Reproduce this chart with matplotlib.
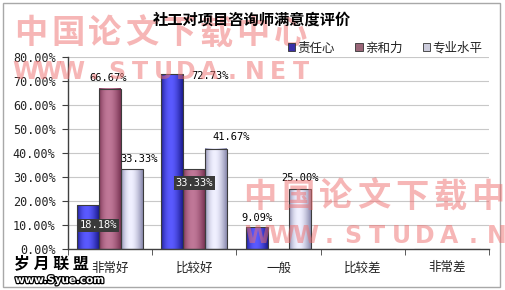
import numpy as np
import matplotlib.pyplot as plt
from matplotlib.patches import Patch, Rectangle
from matplotlib.colors import to_rgb
import matplotlib.patheffects as pe

plt.rcParams['font.family'] = ['Noto Sans CJK SC', 'DejaVu Sans']

# 数据
categories = ['非常好', '比较好', '一般', '比较差', '非常差']
series_names = ['责任心', '亲和力', '专业水平']
zerenxin = [18.18, 72.73, 9.09, 0, 0]
qinheli = [66.67, 33.33, 0, 0, 0]
zhuanye = [33.33, 41.67, 25.00, 0, 0]
yticks = [0, 10, 20, 30, 40, 50, 60, 70, 80]

values = [zerenxin, qinheli, zhuanye]
# (dark, light) gradient colours per series
grad_colors = [('#1c1c90', '#5a5aff'), ('#7a3454', '#c07898'), ('#8a8aae', '#f0f0ff')]
legend_colors = ['#3a2fa8', '#9a6678', '#ccccdc']

# label offsets in pixels: (dx, dy from bar top, dark box)
label_pos = {
    (0, 0): (10, -20, True), (1, 0): (-2, 11, False), (2, 0): (7, 10, False),
    (0, 1): (38, -2, False), (1, 1): (0, -14, True), (2, 1): (15, 12, False),
    (0, 2): (0, 9, False), (2, 2): (0, 11, False),
}

W, H = 506, 290
fig = plt.figure(figsize=(W / 100, H / 100), dpi=100)
fig.patch.set_facecolor('white')
fig.patches.append(Rectangle((3 / W, 3 / H), 497 / W, 284 / H, transform=fig.transFigure,
                             fill=False, edgecolor='#a8a8a8', lw=1))

ax = fig.add_axes([68 / W, 41 / H, 421 / W, 192 / H])

x = np.arange(len(categories))
bw = 0.26
t = np.linspace(0, 1, 64)
shade = np.sin(np.pi * t ** 0.85)

for i, vals in enumerate(values):
    dark, light = np.array(to_rgb(grad_colors[i][0])), np.array(to_rgb(grad_colors[i][1]))
    grad = dark[None, :] + (light - dark)[None, :] * shade[:, None]
    bars = ax.bar(x + (i - 1) * bw, vals, bw, facecolor='none', edgecolor='#3c3c3c', lw=0.8, zorder=3)
    for j, rect in enumerate(bars):
        h = rect.get_height()
        if h <= 0:
            continue
        x0 = rect.get_x()
        ax.imshow(grad[None, :, :], extent=[x0, x0 + rect.get_width(), 0, h],
                  aspect='auto', interpolation='bilinear', zorder=2)
        dx, dy, boxed = label_pos.get((i, j), (0, 10, False))
        kw = dict(color='black')
        if boxed:
            kw = dict(color='white', bbox=dict(boxstyle='square,pad=0.15', fc='#3a3a3a', ec='none'))
        ax.annotate(f'{vals[j]:.2f}%', (rect.get_x() + rect.get_width() / 2, h),
                    xytext=(dx, dy), textcoords='offset pixels', ha='center', va='center',
                    fontsize=7.5, family='DejaVu Sans Mono', zorder=5, **kw)

ax.set_xlim(-0.5, len(categories) - 0.5)
ax.set_ylim(0, 80)
ax.set_yticks(yticks)
ax.set_yticklabels([f'{v:.2f}%' for v in yticks], family='DejaVu Sans Mono', fontsize=8.5, color='#222222')
ax.set_xticks(x)
ax.set_xticklabels(categories, fontsize=9, color='#222222')
ax.set_xticks(np.arange(len(categories) + 1) - 0.5, minor=True)
ax.tick_params(axis='x', which='major', length=0, pad=9)
ax.tick_params(axis='x', which='minor', length=4, direction='out', color='#404040')
ax.tick_params(axis='y', length=4, direction='out', color='#404040', pad=5)
ax.grid(axis='y', color='#c8c8c8', lw=0.8)
ax.set_axisbelow(True)
for s in ['top', 'right']:
    ax.spines[s].set_visible(False)
for s in ['left', 'bottom']:
    ax.spines[s].set_color('#404040')
    ax.spines[s].set_linewidth(1)

handles = [Patch(facecolor=c, edgecolor='#333333', lw=0.6) for c in legend_colors]
fig.legend(handles, series_names, loc='center', bbox_to_anchor=(385 / W, 1 - 48 / H), ncol=3,
           frameon=False, fontsize=9, handlelength=0.6, handleheight=0.6, handletextpad=0.2,
           columnspacing=1.6, labelcolor='#222222')


# watermarks, one character at a time for the wide spacing
def watermark(text, x0, y0, step, size, family):
    for k, ch in enumerate(text):
        fig.text((x0 + k * step) / W, 1 - y0 / H, ch, fontsize=size, family=family,
                 color='#ee6e6e', alpha=0.5, fontweight='black', ha='center', va='center', zorder=4)


watermark('中国论文下载中心', 31, 34, 37, 24, 'Noto Sans CJK SC')
watermark('WWW.STUDA.NET', 25, 72, 23, 17, 'DejaVu Sans')
watermark('中国论文下载中心', 260, 197, 38, 24, 'Noto Sans CJK SC')
watermark('WWW.STUDA.NET', 257, 236, 24, 17, 'DejaVu Sans')

fig.text(14 / W, 1 - 263 / H, '岁 月 联 盟', fontsize=11.5, fontweight='black', va='center',
         ha='left', color='black', zorder=6)
fig.text(15 / W, 1 - 280 / H, 'www.Syue.com', fontsize=7.5, fontweight='bold', va='center', ha='left',
         family='DejaVu Sans', color='white', zorder=6,
         path_effects=[pe.withStroke(linewidth=1.8, foreground='black')])

fig.text(252 / W, 1 - 20 / H, '社工对项目咨询师满意度评价', fontsize=11, fontweight='bold',
         ha='center', va='center', color='black', zorder=7)

fig.savefig('out.png', dpi=100)
